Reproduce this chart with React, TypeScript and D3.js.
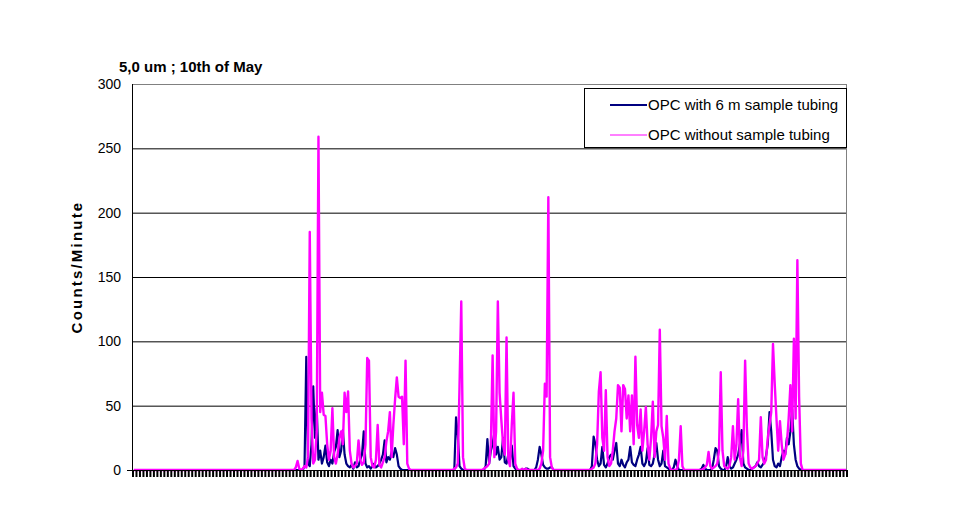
import React from 'react';
import * as d3 from 'd3';

const TITLE = '5,0 um ; 10th of May';
const Y_LABEL = 'Counts/Minute';
const SERIES_NAMES = ['OPC with 6 m sample tubing', 'OPC without sample tubing'];
const Y_TICKS = [0, 50, 100, 150, 200, 250, 300];

// OPC with 6 m sample tubing (counts/minute), one value per sample
const withTubing = [
  0,0,0,0,0,0,0,0,0,0, 0,0,0,0,0,0,0,0,0,0,
  0,0,0,0,0,0,0,0,0,0, 0,0,0,0,0,0,0,0,0,0,
  0,0,0,0,0,0,0,0,0,0, 0,0,0,0,0,0,0,0,0,0,
  0,0,0,0,0,0,0,0,0,0, 0,0,0,0,0,0,0,0,0,0,
  0,0,0,0,0,0,0,0,0,0, 0,0,0,0,0,0,0,0,3,88,
  5,3,20,65,25,48,8,15,5,10, 19,6,3,8,5,14,18,31,10,15,
  31,12,5,3,2,4,1,6,2,3, 8,12,30,5,2,3,1,3,5,2,
  3,5,8,12,23,6,10,8,14,10, 17,12,3,1,0,0,0,0,0,0,
  0,0,0,0,0,0,0,0,0,0, 0,0,0,0,0,0,0,0,0,0,
  0,0,0,0,0,41,27,3,1,0, 0,0,0,0,0,0,0,0,0,0,
  0,0,3,24,5,15,20,29,12,18, 8,10,25,6,5,12,8,19,3,1,
  0,0,0,0,0,1,1,0,0,0, 0,2,8,18,12,4,2,1,1,2,
  2,0,0,0,0,0,0,0,0,0, 0,0,0,0,0,0,0,0,0,0,
  0,0,0,3,26,20,8,3,5,18, 4,2,5,10,12,8,15,21,5,3,
  8,4,2,6,8,18,6,4,3,8, 12,18,5,3,6,17,4,3,5,12,
  21,8,3,5,15,3,2,1,0,0, 2,8,3,0,0,0,0,0,0,0,
  0,0,0,0,0,0,1,4,1,0, 0,0,1,8,17,15,3,1,0,0,
  2,10,3,1,2,5,8,12,20,31, 5,2,1,0,0,1,2,3,6,3,
  2,4,6,11,20,45,30,8,3,2, 5,3,10,15,12,25,20,30,47,20,
  8,3,1,0,0,0,0,0,0,0, 0,0,0,0,0,0,0,0,0,0,
  0,0,0,0,0,0,0,0,0,0,
];

// OPC without sample tubing (counts/minute)
const withoutTubing = [
  0,0,0,0,0,0,0,0,0,0, 0,0,0,0,0,0,0,0,0,0,
  0,0,0,0,0,0,0,0,0,0, 0,0,0,0,0,0,0,0,0,0,
  0,0,0,0,0,0,0,0,0,0, 0,0,0,0,0,0,0,0,0,0,
  0,0,0,0,0,0,0,0,0,0, 0,0,0,0,0,0,0,0,0,0,
  0,0,0,0,0,0,0,0,0,0, 0,0,0,2,7,1,0,1,3,2,
  10,185,40,5,8,30,259,45,60,43, 42,20,8,15,48,10,5,12,25,30,
  20,60,45,61,15,5,2,3,5,23, 8,4,6,20,87,85,10,3,2,8,
  35,4,2,6,10,22,30,45,10,35, 55,72,57,56,57,20,85,5,1,0,
  0,0,0,0,0,0,0,0,0,0, 0,0,0,0,0,0,0,0,0,0,
  0,0,0,0,1,2,5,65,131,10, 1,0,0,0,0,0,0,0,0,0,
  0,1,2,3,5,20,89,10,30,131, 60,39,20,12,103,8,3,35,60,5,
  1,0,0,1,0,1,0,0,0,0, 0,0,0,1,5,15,67,57,212,10,
  2,0,0,0,0,0,0,0,0,0, 0,0,0,0,0,0,0,0,0,0,
  0,0,0,1,2,5,20,61,76,25, 15,62,10,3,5,15,30,40,66,64,
  30,66,63,40,58,30,58,20,88,35, 25,47,15,30,49,20,8,25,53,10,
  30,35,109,34,25,8,42,5,1,0, 0,0,1,8,34,3,0,0,0,0,
  0,0,0,0,0,0,0,1,2,4, 14,3,1,2,3,5,15,76,15,3,
  2,1,3,10,34,8,20,55,10,3, 15,85,33,5,2,1,2,3,5,8,
  41,10,5,8,25,35,45,98,67,40, 15,38,20,8,12,21,40,66,30,102,
  40,163,57,5,0,0,0,0,0,0, 0,0,0,0,0,0,0,0,0,0,
  0,0,0,0,0,0,0,0,0,0,
];

const NAVY = '#000080';
const PINK = '#ff00ff';
const FONT = '"Liberation Sans", Arial, sans-serif';

export default function App() {
  const W = 960, H = 515;
  const left = 133, right = 847, top = 84, bottom = 470;
  const n = withTubing.length;
  const x = d3.scaleLinear().domain([0, n]).range([left, right]);
  const y = d3.scaleLinear().domain([0, 300]).range([bottom, top]);
  const line = d3.line<number>().x((_, i) => x(i + 0.5)).y(d => y(d));
  const tickIdx = d3.range(0, n + 1, 2);

  return (
    <svg width={W} height={H} style={{ position: 'absolute', left: 0, top: 0, background: '#fff' }}
      fontFamily={FONT}>
      <rect x={0} y={0} width={W} height={H} fill="#fff" />
      {/* gridlines */}
      {Y_TICKS.filter(t => t > 0 && t < 300).map(t => (
        <line key={t} x1={left} x2={right} y1={y(t) + 0.5} y2={y(t) + 0.5} stroke="#000" strokeWidth={1} />
      ))}
      {/* plot border top/right */}
      <line x1={left} x2={right} y1={top + 0.5} y2={top + 0.5} stroke="#808080" strokeWidth={1} />
      <line x1={right - 0.5} x2={right - 0.5} y1={top} y2={bottom} stroke="#808080" strokeWidth={1} />
      {/* series */}
      <path d={line(withTubing) || ''} fill="none" stroke={NAVY} strokeWidth={2.2} strokeLinejoin="round" />
      <path d={line(withoutTubing) || ''} fill="none" stroke={PINK} strokeWidth={2.4} strokeLinejoin="round" />
      {/* y axis */}
      <line x1={left - 0.5} x2={left - 0.5} y1={top} y2={bottom + 1} stroke="#000" strokeWidth={1} />
      {Y_TICKS.map(t => (
        <text key={t} x={121} y={y(t) + 5} fontSize={14} textAnchor="end" fill="#000">{t}</text>
      ))}
      {/* x axis */}
      <line x1={127} x2={right} y1={bottom + 0.5} y2={bottom + 0.5} stroke="#000" strokeWidth={1} />
      {tickIdx.map(k => (
        <rect key={k} x={x(k) - 1} y={bottom} width={2} height={7} fill="#000" />
      ))}
      {/* titles */}
      <text x={119} y={72} fontSize={15} fontWeight="bold" fill="#000">{TITLE}</text>
      <text transform={`translate(82,267) rotate(-90)`} fontSize={15} fontWeight="bold" letterSpacing={2.2}
        textAnchor="middle" fill="#000">{Y_LABEL}</text>
      {/* legend */}
      <rect x={584.5} y={88.5} width={262} height={59} fill="#fff" stroke="#000" strokeWidth={1} />
      <line x1={610} x2={647} y1={105} y2={105} stroke={NAVY} strokeWidth={2} />
      <text x={648} y={110} fontSize={15} fill="#000">{SERIES_NAMES[0]}</text>
      <line x1={610} x2={647} y1={135} y2={135} stroke={PINK} strokeWidth={1} />
      <text x={648} y={140} fontSize={15} fill="#000">{SERIES_NAMES[1]}</text>
    </svg>
  );
}
